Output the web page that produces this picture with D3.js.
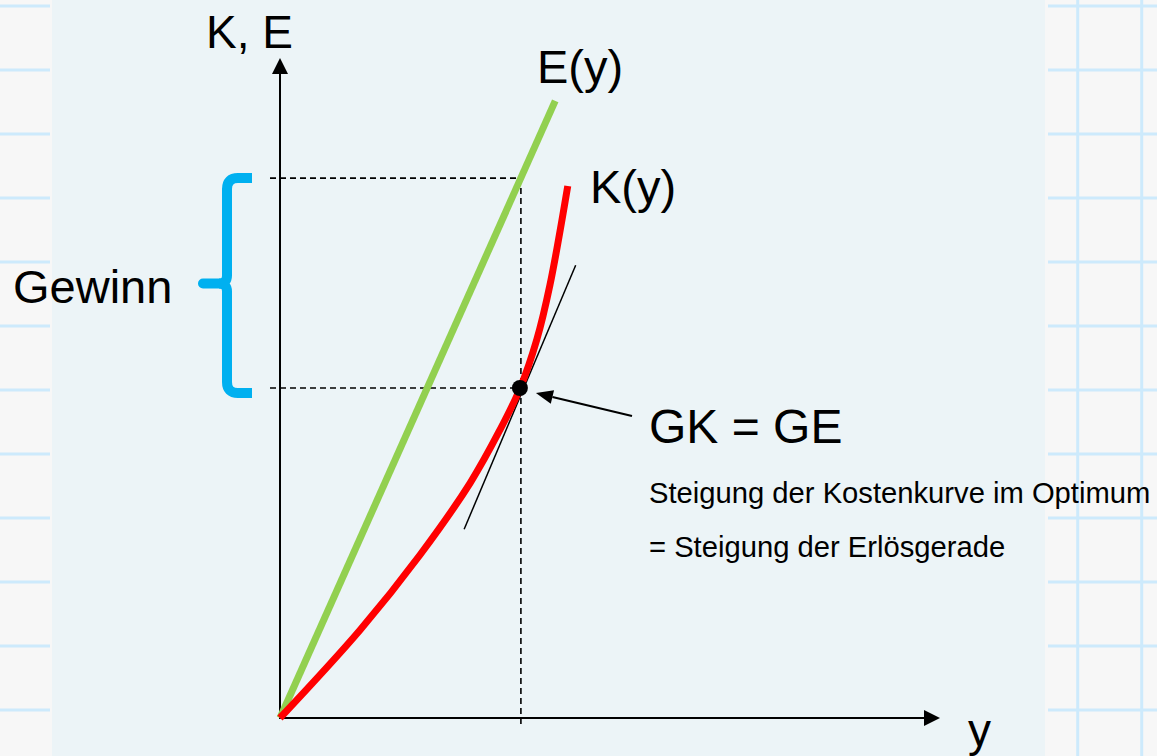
<!DOCTYPE html>
<html>
<head>
<meta charset="utf-8">
<script src="https://cdn.jsdelivr.net/npm/d3@7"></script>
<style>
  html, body { margin: 0; padding: 0; background: #f7f7f7; }
  svg { display: block; font-family: "Liberation Sans", Arial, sans-serif; }
</style>
</head>
<body>
<svg id="chart"></svg>
<script>
// revenue line E(y) and cost curve K(y), in chart units
const erloes = [[0, 0], [4.17, 9.35]];
const kosten = [[0, 0], [1.21, 1.33], [2.12, 2.47], [2.88, 3.56], [3.33, 4.36],
                [3.64, 5.00], [3.89, 5.73], [4.09, 6.56], [4.36, 8.06]];
const tangente = [[2.79, 2.86], [4.48, 6.86]];
const optimum = { x: 3.65, k: 5.00, e: 8.18 };
const labels = {
    yAxis: "K, E", xAxis: "y", e: "E(y)", k: "K(y)", gewinn: "Gewinn",
    gkge: "GK = GE",
    note1: "Steigung der Kostenkurve im Optimum",
    note2: "= Steigung der Erlösgerade"
};

const width = 1157, height = 756;
const svg = d3.select("#chart").attr("width", width).attr("height", height);

// background: squared paper strips + panel
const grid = svg.append("g").attr("stroke", "#cdeafc").attr("stroke-width", 3);
for (let yy = 6; yy < height; yy += 64) {
    grid.append("line").attr("x1", 0).attr("x2", 50).attr("y1", yy).attr("y2", yy);
    grid.append("line").attr("x1", 1048).attr("x2", width).attr("y1", yy).attr("y2", yy);
}
[1077.7, 1141.7].forEach(xx => {
    grid.append("line").attr("x1", xx).attr("x2", xx).attr("y1", 0).attr("y2", height);
});
svg.append("rect").attr("x", 52).attr("y", 0).attr("width", 993).attr("height", height)
    .attr("fill", "#ecf4f7");

const x = d3.scaleLinear().domain([0, 10]).range([280, 940]);
const y = d3.scaleLinear().domain([0, 10]).range([718, 58]);

const chart = svg.append("g");

// dashed guides
const dash = chart.append("g").attr("stroke", "#000").attr("stroke-width", 1.6)
    .attr("stroke-dasharray", "6,4").attr("fill", "none");
dash.append("line").attr("x1", x(0) - 10).attr("x2", x(optimum.x))
    .attr("y1", y(optimum.e)).attr("y2", y(optimum.e));
dash.append("line").attr("x1", x(0) - 10).attr("x2", x(optimum.x))
    .attr("y1", y(optimum.k)).attr("y2", y(optimum.k));
dash.append("line").attr("x1", x(optimum.x)).attr("x2", x(optimum.x))
    .attr("y1", y(optimum.e)).attr("y2", y(0) + 10);

// axes with arrows
chart.append("line").attr("x1", x(0)).attr("x2", x(0)).attr("y1", y(0) + 1).attr("y2", y(10) + 14)
    .attr("stroke", "#000").attr("stroke-width", 2);
chart.append("path")
    .attr("d", `M${x(0)},${y(10)} L${x(0) - 8},${y(10) + 16} L${x(0) + 8},${y(10) + 16} Z`)
    .attr("fill", "#000");
chart.append("line").attr("x1", x(0)).attr("x2", x(10) - 14).attr("y1", y(0)).attr("y2", y(0))
    .attr("stroke", "#000").attr("stroke-width", 2);
chart.append("path")
    .attr("d", `M${x(10)},${y(0)} L${x(10) - 16},${y(0) - 8} L${x(10) - 16},${y(0) + 8} Z`)
    .attr("fill", "#000");

const line = d3.line().x(d => x(d[0])).y(d => y(d[1]));

chart.append("path").datum(erloes).attr("d", line)
    .attr("fill", "none").attr("stroke", "#92d050").attr("stroke-width", 7);

chart.append("path").datum(tangente).attr("d", line)
    .attr("fill", "none").attr("stroke", "#000").attr("stroke-width", 1.5);

chart.append("path").datum(kosten).attr("d", line.curve(d3.curveCatmullRom))
    .attr("fill", "none").attr("stroke", "#ff0000").attr("stroke-width", 7);

chart.append("circle").attr("cx", x(optimum.x) - 1).attr("cy", y(optimum.k)).attr("r", 8)
    .attr("fill", "#000");

// pointer arrow to optimum
const tip = [x(optimum.x) + 15, y(optimum.k) + 5];
const tail = [632, 416];
const ang = Math.atan2(tail[1] - tip[1], tail[0] - tip[0]);
const hl = 17, hw = 7;
const bx = tip[0] + hl * Math.cos(ang), by = tip[1] + hl * Math.sin(ang);
chart.append("line").attr("x1", tail[0]).attr("y1", tail[1]).attr("x2", bx).attr("y2", by)
    .attr("stroke", "#000").attr("stroke-width", 2);
chart.append("path")
    .attr("d", `M${tip[0]},${tip[1]} L${bx - hw * Math.sin(ang)},${by + hw * Math.cos(ang)} L${bx + hw * Math.sin(ang)},${by - hw * Math.cos(ang)} Z`)
    .attr("fill", "#000");

// Gewinn brace
const braceTop = y(optimum.e), braceBot = y(optimum.k) + 5, braceMid = (braceTop + braceBot) / 2 - 2;
const bxv = 227;
chart.append("path")
    .attr("d", `M252,${braceTop} L238,${braceTop} Q${bxv},${braceTop} ${bxv},${braceTop + 11} L${bxv},${braceMid - 8} Q${bxv},${braceMid} ${bxv - 8},${braceMid}
                M${bxv - 8},${braceMid} Q${bxv},${braceMid} ${bxv},${braceMid + 8} L${bxv},${braceBot - 11} Q${bxv},${braceBot} 238,${braceBot} L252,${braceBot}`)
    .attr("fill", "none").attr("stroke", "#00b0f0").attr("stroke-width", 10);
chart.append("line").attr("x1", 203).attr("x2", bxv - 6).attr("y1", braceMid).attr("y2", braceMid)
    .attr("stroke", "#00b0f0").attr("stroke-width", 10).attr("stroke-linecap", "round");

// text
const txt = (tx, ty, s, size) => chart.append("text").attr("x", tx).attr("y", ty)
    .attr("font-size", size).attr("fill", "#000").text(s);
txt(206, 48, labels.yAxis, 46);
txt(968, 746, labels.xAxis, 46);
txt(537, 83, labels.e, 47);
txt(590, 203, labels.k, 47);
txt(13, 303, labels.gewinn, 47);
txt(649, 443, labels.gkge, 48);
txt(649, 503, labels.note1, 29.2);
txt(649, 557, labels.note2, 29.2);
</script>
</body>
</html>
